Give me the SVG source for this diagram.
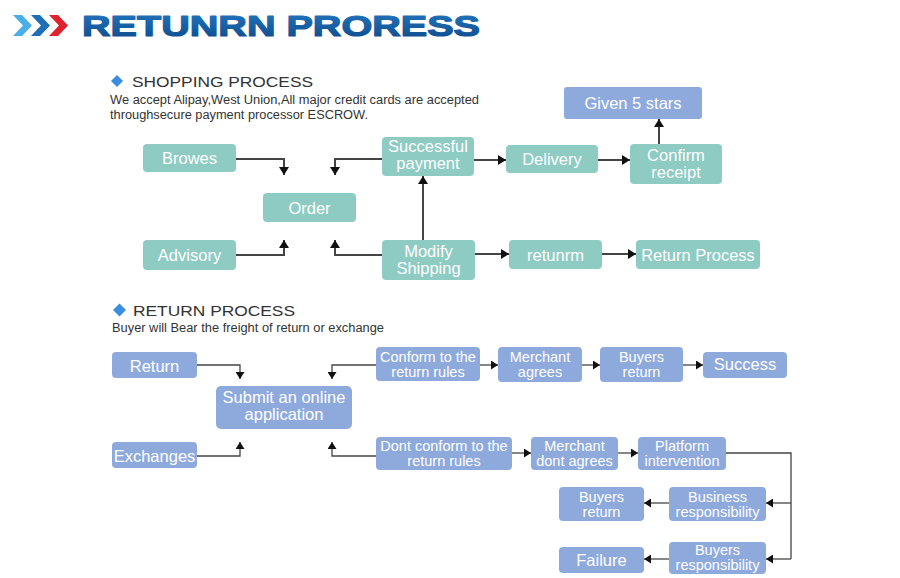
<svg xmlns="http://www.w3.org/2000/svg" width="900" height="578" viewBox="0 0 900 578">
<defs>
<linearGradient id="tg" x1="0" y1="0" x2="0" y2="1">
<stop offset="0" stop-color="#2478c0"/>
<stop offset="1" stop-color="#0c4a8a"/>
</linearGradient>
<marker id="ah" viewBox="0 0 8 10" refX="8" refY="5" markerWidth="8" markerHeight="10" markerUnits="userSpaceOnUse" orient="auto">
<path d="M0,0 L8,5 L0,10 z" fill="#111"/>
</marker>
<marker id="as" viewBox="0 0 7 9" refX="7" refY="4.5" markerWidth="7" markerHeight="9" markerUnits="userSpaceOnUse" orient="auto">
<path d="M0,0 L7,4.5 L0,9 z" fill="#111"/>
</marker>
</defs>
<style>
.t{fill:#8ecbc3}
.b{fill:#8eaadc}
.nt{font-family:"Liberation Sans",Arial,sans-serif;fill:#fff;text-anchor:middle;font-size:16.5px}
.ns{font-family:"Liberation Sans",Arial,sans-serif;fill:#fff;text-anchor:middle;font-size:14.5px}
.c1{fill:none;stroke:#444;stroke-width:2}
.c2{fill:none;stroke:#444;stroke-width:1.3}
.h{font-family:"Liberation Sans",Arial,sans-serif;fill:#333}
</style>
<rect width="900" height="578" fill="#fff"/>

<g id="header">
<polygon points="13,15 22,15 32,25.5 22,36 13,36 23,25.5" fill="#4aaee8"/>
<polygon points="31,15 40,15 50,25.5 40,36 31,36 41,25.5" fill="#1d6fb8"/>
<polygon points="49,15 58,15 68,25.5 58,36 49,36 59,25.5" fill="#e0222c"/>
<text x="82" y="36" font-family="Liberation Sans,Arial,sans-serif" font-weight="bold" font-size="29.5" fill="url(#tg)" stroke="url(#tg)" stroke-width="1.2" stroke-linejoin="round" textLength="398" lengthAdjust="spacingAndGlyphs">RETUNRN PRORESS</text>
</g>

<g id="shopping-heading">
<polygon points="117,75 123,81 117,87 111,81" fill="#3a8ee0"/>
<text class="h" x="132" y="87" font-size="15.5" textLength="181" lengthAdjust="spacingAndGlyphs">SHOPPING PROCESS</text>
<text class="h" x="110" y="104" font-size="12.5" textLength="369" lengthAdjust="spacingAndGlyphs">We accept Alipay,West Union,All major credit cards are accepted</text>
<text class="h" x="110" y="119" font-size="12.5" textLength="258" lengthAdjust="spacingAndGlyphs">throughsecure payment processor ESCROW.</text>
</g>

<g id="connectors-shopping">
<path class="c1" d="M236,159 H284 V175" marker-end="url(#ah)"/>
<path class="c1" d="M382,159 H335 V175" marker-end="url(#ah)"/>
<path class="c1" d="M236,255 H284 V240" marker-end="url(#ah)"/>
<path class="c1" d="M382,255 H335 V240" marker-end="url(#ah)"/>
<path class="c1" d="M423,240 V176" marker-end="url(#ah)"/>
<path class="c1" d="M474,160 H506" marker-end="url(#ah)"/>
<path class="c1" d="M598,160 H630" marker-end="url(#ah)"/>
<path class="c1" d="M659,144 V119" marker-end="url(#ah)"/>
<path class="c1" d="M475,254 H509" marker-end="url(#ah)"/>
<path class="c1" d="M602,254 H636" marker-end="url(#ah)"/>
</g>

<g id="browes"><rect class="t" x="143" y="144" width="93" height="28" rx="4"/><text class="nt" x="189.5" y="164">Browes</text></g>
<g id="order"><rect class="t" x="263" y="193" width="93" height="29" rx="4"/><text class="nt" x="309.5" y="214">Order</text></g>
<g id="advisory"><rect class="t" x="143" y="240" width="93" height="30" rx="4"/><text class="nt" x="189.5" y="261">Advisory</text></g>
<g id="successful-payment"><rect class="t" x="382" y="137" width="92" height="39" rx="4"/><text class="nt" x="428" y="152">Successful</text><text class="nt" x="428" y="169">payment</text></g>
<g id="delivery"><rect class="t" x="506" y="145" width="92" height="28" rx="4"/><text class="nt" x="552" y="165">Delivery</text></g>
<g id="confirm-receipt"><rect class="t" x="630" y="144" width="92" height="40" rx="4"/><text class="nt" x="676" y="161">Confirm</text><text class="nt" x="676" y="178">receipt</text></g>
<g id="given-5-stars"><rect class="b" x="564" y="87" width="138" height="32" rx="3"/><text class="nt" x="633" y="109">Given 5 stars</text></g>
<g id="modify-shipping"><rect class="t" x="382" y="240" width="93" height="40" rx="4"/><text class="nt" x="428.5" y="257">Modify</text><text class="nt" x="428.5" y="274">Shipping</text></g>
<g id="retunrm"><rect class="t" x="509" y="240" width="93" height="29" rx="4"/><text class="nt" x="555.5" y="261">retunrm</text></g>
<g id="return-process-node"><rect class="t" x="636" y="240" width="124" height="29" rx="4"/><text class="nt" x="698" y="261">Return Process</text></g>

<g id="return-heading">
<polygon points="119.5,303.5 126,310 119.5,316.5 113,310" fill="#3a8ee0"/>
<text class="h" x="133" y="316" font-size="15.5" textLength="162" lengthAdjust="spacingAndGlyphs">RETURN PROCESS</text>
<text class="h" x="112" y="332" font-size="12.5" textLength="272" lengthAdjust="spacingAndGlyphs">Buyer will Bear the freight of return or exchange</text>
</g>

<g id="connectors-return">
<path class="c2" d="M197,365 H240 V379" marker-end="url(#as)"/>
<path class="c2" d="M376,365 H332 V379" marker-end="url(#as)"/>
<path class="c2" d="M197,456 H240 V442" marker-end="url(#as)"/>
<path class="c2" d="M376,456 H332 V442" marker-end="url(#as)"/>
<path class="c2" d="M480,365 H498" marker-end="url(#as)"/>
<path class="c2" d="M582,365 H600" marker-end="url(#as)"/>
<path class="c2" d="M683,365 H703" marker-end="url(#as)"/>
<path class="c2" d="M512,453 H531" marker-end="url(#as)"/>
<path class="c2" d="M618,453 H638" marker-end="url(#as)"/>
<path class="c2" d="M726,453 H791 V559"/>
<path class="c2" d="M791,503 H766" marker-end="url(#as)"/>
<path class="c2" d="M791,559 H766" marker-end="url(#as)"/>
<path class="c2" d="M669,503 H644" marker-end="url(#as)"/>
<path class="c2" d="M669,559 H644" marker-end="url(#as)"/>
</g>

<g id="return"><rect class="b" x="112" y="352" width="85" height="26" rx="4"/><text class="nt" x="154.5" y="372">Return</text></g>
<g id="exchanges"><rect class="b" x="112" y="442" width="85" height="26" rx="4"/><text class="nt" x="154.5" y="462">Exchanges</text></g>
<g id="submit"><rect class="b" x="216" y="386" width="136" height="43" rx="5"/><text class="nt" x="284" y="403">Submit an online</text><text class="nt" x="284" y="420">application</text></g>
<g id="conform"><rect class="b" x="376" y="347" width="104" height="34" rx="4"/><text class="ns" x="428" y="362">Conform to the</text><text class="ns" x="428" y="377">return rules</text></g>
<g id="dont-conform"><rect class="b" x="376" y="437" width="136" height="33" rx="4"/><text class="ns" x="444" y="451">Dont conform to the</text><text class="ns" x="444" y="466">return rules</text></g>
<g id="merchant-agrees"><rect class="b" x="498" y="347" width="84" height="35" rx="4"/><text class="ns" x="540" y="362">Merchant</text><text class="ns" x="540" y="377">agrees</text></g>
<g id="buyers-return-1"><rect class="b" x="600" y="347" width="83" height="35" rx="4"/><text class="ns" x="641.5" y="362">Buyers</text><text class="ns" x="641.5" y="377">return</text></g>
<g id="success"><rect class="b" x="703" y="352" width="84" height="26" rx="4"/><text class="nt" x="745" y="370">Success</text></g>
<g id="merchant-dont-agrees"><rect class="b" x="531" y="437" width="87" height="33" rx="4"/><text class="ns" x="574.5" y="451">Merchant</text><text class="ns" x="574.5" y="466">dont agrees</text></g>
<g id="platform-intervention"><rect class="b" x="638" y="437" width="88" height="33" rx="4"/><text class="ns" x="682" y="451">Platform</text><text class="ns" x="682" y="466">intervention</text></g>
<g id="business-responsibility"><rect class="b" x="669" y="487" width="97" height="34" rx="4"/><text class="ns" x="717.5" y="502">Business</text><text class="ns" x="717.5" y="517">responsibility</text></g>
<g id="buyers-return-2"><rect class="b" x="559" y="487" width="85" height="34" rx="4"/><text class="ns" x="601.5" y="502">Buyers</text><text class="ns" x="601.5" y="517">return</text></g>
<g id="buyers-responsibility"><rect class="b" x="669" y="542" width="97" height="32" rx="4"/><text class="ns" x="717.5" y="555">Buyers</text><text class="ns" x="717.5" y="570">responsibility</text></g>
<g id="failure"><rect class="b" x="559" y="547" width="85" height="26" rx="4"/><text class="nt" x="601.5" y="566">Failure</text></g>
</svg>
